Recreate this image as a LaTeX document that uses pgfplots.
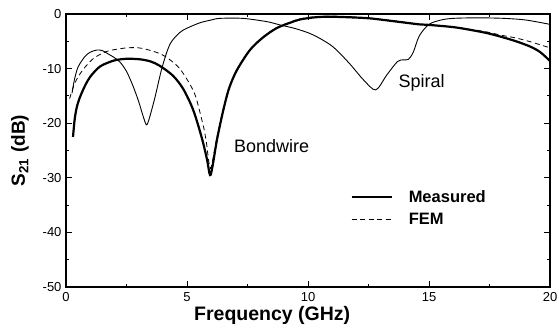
\documentclass[border=0pt]{standalone}
\usepackage{pgfplots}
\pgfplotsset{compat=1.18}
\usepackage{fontspec}
\setmainfont{Liberation Sans}
\begin{document}
\begin{tikzpicture}
\begin{axis}[
  scale only axis, width=484pt, height=273pt,
  xmin=0, xmax=20, ymin=-50, ymax=0,
  xtick={0,5,10,15,20}, ytick={-50,-40,-30,-20,-10,0},
  minor x tick num=1, minor y tick num=1,
  tick align=inside, major tick length=6pt, minor tick length=3pt,
  axis line style={line width=1.1pt}, every tick/.style={black, line width=0.8pt},
  /pgf/number format/assume math mode=true,
  tick label style={font=\fontsize{13}{15}\selectfont},
  xticklabel style={yshift=-2pt},
  yticklabel style={xshift=-1pt},
  xlabel={\textbf{Frequency (GHz)}},
  ylabel={\textbf{S\textsubscript{21} (dB)}},
  xlabel style={font=\fontsize{19.5}{21}\selectfont, at={(axis description cs:0.426,-0.106)}, anchor=center},
  ylabel style={font=\fontsize{19}{21}\selectfont, at={(axis description cs:-0.095,0.5)}, anchor=center},
  legend style={at={(axis cs:11.75,-31.9)}, anchor=north west, draw=none, fill=none,
    font=\bfseries\fontsize{16.5}{18}\selectfont, row sep=5pt,
    legend cell align=left, inner sep=0pt,
    /tikz/every odd column/.append style={column sep=14pt}},
  legend image code/.code={\draw[#1] (0pt,0pt) -- (40pt,0pt);},
]
% Measured (thick)
\addplot[black, line width=2.2pt, smooth, tension=0.5] coordinates {
(0.29,-22.5) (0.33,-20.5) (0.37,-18.9) (0.45,-17.0) (0.58,-15.2) (0.8,-13.0)
(1.0,-11.5) (1.3,-10.0) (1.53,-9.3) (2.0,-8.5) (2.5,-8.2) (3.06,-8.3) (3.5,-8.7)
(3.88,-9.5) (4.42,-11.3) (4.84,-13.7) (5.25,-17.5) (5.6,-22.5) (5.82,-26.5)
(5.95,-29.5) (6.05,-28.0) (6.24,-23) (6.5,-17.6) (6.74,-13.6) (7.06,-10.3)
(7.6,-6.6) (8.14,-4.3) (8.7,-2.6) (9.26,-1.6) (9.67,-1.0) (10.3,-0.6) (10.9,-0.5)
(11.7,-0.6) (12.56,-0.8) (13.5,-1.3) (14.6,-1.9) (15.0,-2.0) (16.0,-2.4)
(16.7,-2.9) (17.4,-3.5) (18.0,-4.2) (18.6,-5.0) (19.2,-6.0) (19.6,-7.0) (20,-8.6)
};
\addlegendentry{Measured}
% FEM (dashed)
\addplot[black, line width=0.8pt, dash pattern=on 5pt off 3.5pt, smooth, tension=0.5] coordinates {
(0.15,-15.5) (0.37,-12.6) (0.7,-10.2) (1.12,-8.2) (1.5,-7.2) (1.8,-6.7) (2.5,-6.2)
(3.0,-6.2) (3.35,-6.5) (3.9,-7.3) (4.3,-8.4) (4.7,-10.0) (5.1,-12.7) (5.35,-15.0)
(5.54,-18.1) (5.7,-21) (5.8,-23.5) (5.9,-27) (5.97,-28.3) (6.05,-27) (6.24,-22.5)
(6.5,-17.4) (6.74,-13.5) (7.06,-10.2) (7.6,-6.5) (8.14,-4.2) (8.7,-2.5) (9.26,-1.5)
(9.67,-0.9) (10.3,-0.5) (10.9,-0.4) (11.7,-0.5) (12.56,-0.8) (13.5,-1.2) (14.6,-1.9)
(15.0,-2.0) (16.0,-2.4) (16.7,-2.8) (17.4,-3.3) (18.0,-3.9) (18.6,-4.4) (19.2,-5.1) (20,-6.2)
};
\addlegendentry{FEM}
% Spiral (thin)
\addplot[black, line width=0.9pt, smooth, tension=0.5, forget plot] coordinates {
(0.25,-14.5) (0.35,-12) (0.5,-9.7) (0.78,-7.8) (1.0,-7.0) (1.28,-6.6) (1.5,-6.7)
(1.7,-7.2) (2.0,-8.0) (2.23,-8.8) (2.5,-10.5) (2.77,-13.2) (3.0,-16.0) (3.2,-18.9)
(3.33,-20.3) (3.45,-19.0) (3.68,-15.2) (3.97,-9.8) (4.3,-5.5) (4.7,-3.4) (5.0,-2.6)
(5.54,-1.6) (6.0,-1.1) (6.36,-0.8) (7.3,-0.8) (8.3,-1.4) (8.84,-2.0) (9.5,-2.7)
(10.2,-3.8) (11.0,-5.9) (11.7,-9.0) (12.3,-12.1) (12.8,-13.9) (13.25,-11.2)
(13.7,-8.7) (13.95,-8.4) (14.15,-8.3) (14.35,-7.0) (14.6,-4.0) (15.0,-1.9)
(15.5,-1.1) (16.0,-0.8) (17,-0.7) (18.1,-0.8) (19,-1.1) (20,-1.9)
};
\node[font=\fontsize{18}{20}\selectfont] at (axis cs:8.5,-24.1) {Bondwire};
\node[font=\fontsize{18}{20}\selectfont] at (axis cs:14.7,-12.7) {Spiral};
\end{axis}
\pgfresetboundingbox
\path[use as bounding box] (-66pt,-44pt) rectangle (493pt,287pt);
\end{tikzpicture}
\end{document}
